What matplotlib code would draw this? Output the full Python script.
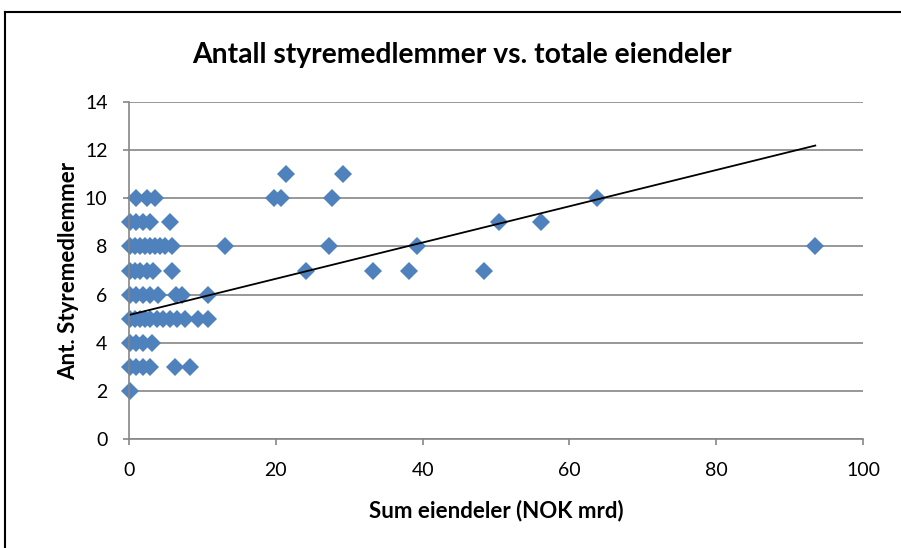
import numpy as np
import matplotlib
matplotlib.use("Agg")
from matplotlib import pyplot as plt
from matplotlib.lines import Line2D

# data lest av fra bildet (mrd NOK, antall styremedlemmer)
sum_eiendeler = [
    1.0, 2.4, 3.5, 19.7, 20.7, 27.6, 63.7,
    21.4, 29.2,
    0.1, 1.0, 1.9, 2.9, 5.6, 50.4, 56.1,
    0.1, 0.8, 1.5, 2.2, 2.9, 3.5, 4.2, 4.9, 5.8, 13.1, 27.2, 39.3, 93.5,
    0.1, 0.8, 1.5, 2.4, 3.3, 5.8, 24.1, 33.3, 38.1, 48.3,
    0.1, 1.0, 1.9, 2.9, 4.0, 6.4, 7.2, 10.8,
    0.1, 0.8, 1.5, 2.2, 2.9, 3.8, 4.7, 5.6, 6.5, 7.6, 9.4, 10.8,
    0.1, 1.0, 1.9, 3.1,
    0.1, 1.0, 1.9, 2.9, 6.3, 8.3,
    0.2,
]
styremedlemmer = (
    [10] * 7 + [11] * 2 + [9] * 7 + [8] * 13 + [7] * 10
    + [6] * 8 + [5] * 12 + [4] * 4 + [3] * 6 + [2] * 1
)

# trendlinje (lest av bildet)
trend_konst = 5.15
trend_stigning = 0.0753

x_ticks = [0, 20, 40, 60, 80, 100]
y_ticks = [0, 2, 4, 6, 8, 10, 12, 14]

plt.rcParams['font.family'] = ['Lato', 'DejaVu Sans']

fig = plt.figure(figsize=(9.01, 5.48), dpi=100)
W, H = 901, 548
ax = fig.add_axes([129 / W, (H - 439) / H, 734 / W, 337 / H])

grid_col = '#868686'
ax.set_xlim(0, 100)
ax.set_ylim(0, 14)
ax.set_xticks(x_ticks)
ax.set_yticks(y_ticks)
ax.yaxis.grid(True, color=grid_col, linewidth=1.2)
ax.set_axisbelow(True)
for s in ['top', 'right']:
    ax.spines[s].set_visible(False)
for s in ['left', 'bottom']:
    ax.spines[s].set_color(grid_col)
    ax.spines[s].set_linewidth(1.2)
ax.tick_params(direction='out', length=4.5, color=grid_col, width=1.2,
               labelsize=14)
ax.tick_params(axis='x', pad=12)
ax.tick_params(axis='y', pad=11)

ax.plot(sum_eiendeler, styremedlemmer, linestyle='none', marker='D',
        ms=9, color='#4F81BD', markeredgewidth=0, clip_on=False)

xt = np.array([min(sum_eiendeler), max(sum_eiendeler)])
ax.plot(xt, trend_konst + trend_stigning * xt, color='black', lw=1.3)

ax.set_xlabel('Sum eiendeler (NOK mrd)', fontsize=16, fontweight='bold', labelpad=15)
ax.set_ylabel('Ant. Styremedlemmer', fontsize=16, fontweight='bold', labelpad=4)
fig.text(462 / W, 1 - 55 / H, 'Antall styremedlemmer vs. totale eiendeler',
         ha='center', va='center', fontsize=20.3, fontweight='bold')

# ramme rundt diagrammet
fig.add_artist(Line2D([5 / W, 5 / W], [0, 1 - 12 / H], color='black', lw=1.5))
fig.add_artist(Line2D([5 / W, 1], [1 - 12 / H, 1 - 12 / H], color='black', lw=1.5))

fig.savefig('out.png', dpi=100)
